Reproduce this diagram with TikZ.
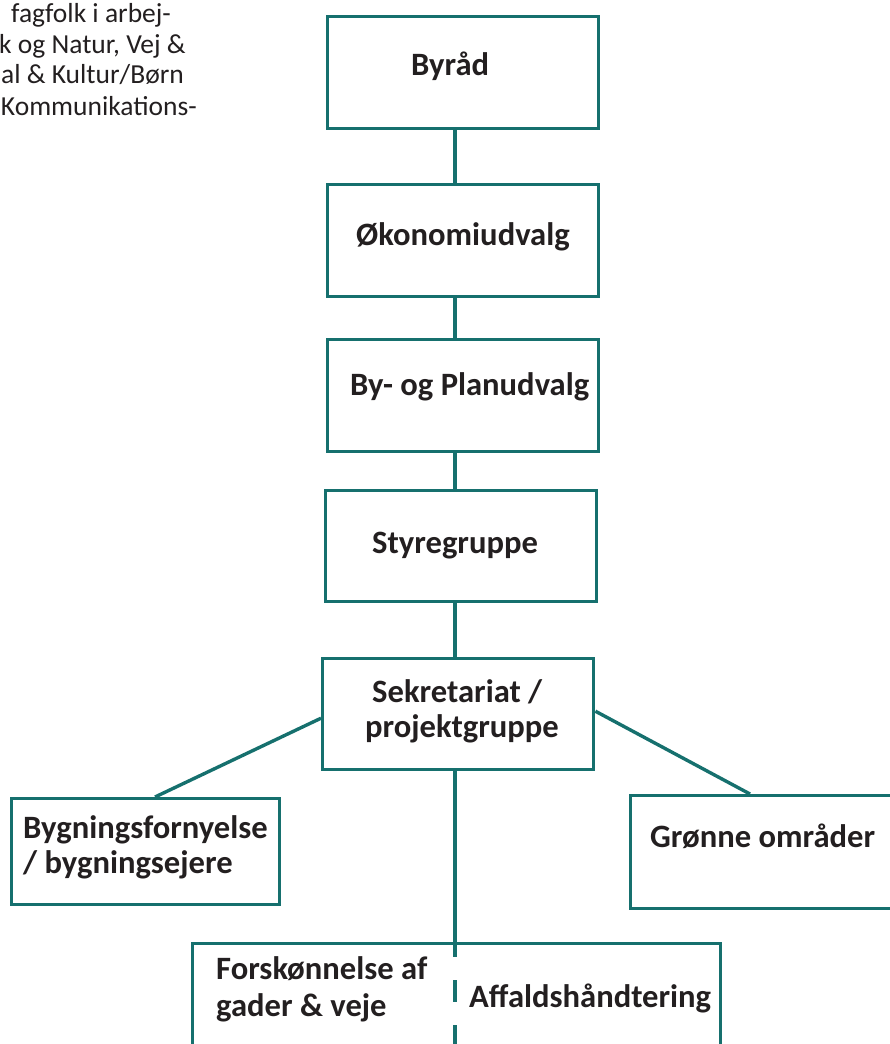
\documentclass[tikz,border=0pt]{standalone}
\usepackage{fontspec}
\setmainfont{Carlito}
\usetikzlibrary{calc}
\definecolor{teal1}{RGB}{22,112,110}
\definecolor{ink}{RGB}{35,31,32}
\begin{document}
\begin{tikzpicture}[x=1pt,y=-1pt,
  box/.style={draw=teal1,line width=3.4pt,inner sep=0pt,anchor=north west},
  conn/.style={draw=teal1,line width=3.4pt},
  lbl/.style={anchor=base west,inner sep=0pt,text=ink,font=\fontsize{32.6}{38}\selectfont\bfseries},
  note/.style={anchor=base west,inner sep=0pt,text=ink,font=\fontsize{27.5}{32}\selectfont}]
\useasboundingbox (0,0) rectangle (890,1044);
\clip (0,0) rectangle (890,1044);
% top-left note (clipped at the left edge, as in the source)
\node[note] (n1) at (11,23) {fagfolk i arbej-};
\node[note] (n2) at (-1,53) {k og Natur, Vej \&};
\node[note] (n3) at (1,83) {al \& Kultur/Børn};
\node[note,anchor=base east] (n4) at (197,115) {Kommunikations-};
% boxes
\node[box,minimum width=271pt,minimum height=112pt] (byrad) at (326,15) {};
\node[box,minimum width=271pt,minimum height=112pt] (oko) at (326,183) {};
\node[box,minimum width=271pt,minimum height=112pt] (plan) at (326,338) {};
\node[box,minimum width=271pt,minimum height=111pt] (styre) at (324,489) {};
\node[box,minimum width=271pt,minimum height=111pt] (sek) at (321,657) {};
\node[box,minimum width=268pt,minimum height=106pt] (byg) at (10,797) {};
\node[box,minimum width=300pt,minimum height=113pt] (gron) at (629,794) {};
\node[box,minimum width=528pt,minimum height=140pt] (bund) at (191,942) {};
% labels
\node[lbl] (t1) at (411,75) {Byråd};
\node[lbl] (t2) at (356,245) {Økonomiudvalg};
\node[lbl] (t3) at (350,395) {By- og Planudvalg};
\node[lbl] (t4) at (372,553) {Styregruppe};
\node[lbl] (t5) at (372,702) {Sekretariat /};
\node[lbl] (t5b) at (365,737) {projektgruppe};
\node[lbl] (t6) at (23,838) {Bygningsfornyelse};
\node[lbl] (t6b) at (23,873) {/ bygningsejere};
\node[lbl] (t7) at (650,847) {Grønne områder};
\node[lbl] (t8) at (216,979) {Forskønnelse af};
\node[lbl] (t8b) at (216,1016) {gader \& veje};
\node[lbl] (t9) at (469,1007) {Affaldshåndtering};
% connectors
\coordinate (spine) at (455,0);
\draw[conn] (byrad.south -| spine) -- (oko.north -| spine);
\draw[conn] (oko.south -| spine) -- (plan.north -| spine);
\draw[conn] (plan.south -| spine) -- (styre.north -| spine);
\draw[conn] (styre.south -| spine) -- (sek.north -| spine);
\draw[conn] (sek.south -| spine) -- (bund.north -| spine);
\coordinate (dend) at (bund.south -| spine);
\draw[conn] (bund.north -| spine) -- ++(0,15);
\draw[conn,dash pattern=on 22pt off 23pt] ($(bund.north -| spine)+(0,38)$) -- (dend);
\draw[conn] ($(sek.west)+(0,4)$) -- ($(byg.north west)+(145,0)$);
\draw[conn] ($(sek.east)+(0,-3)$) -- ($(gron.north west)+(121,0)$);
\end{tikzpicture}
\end{document}
